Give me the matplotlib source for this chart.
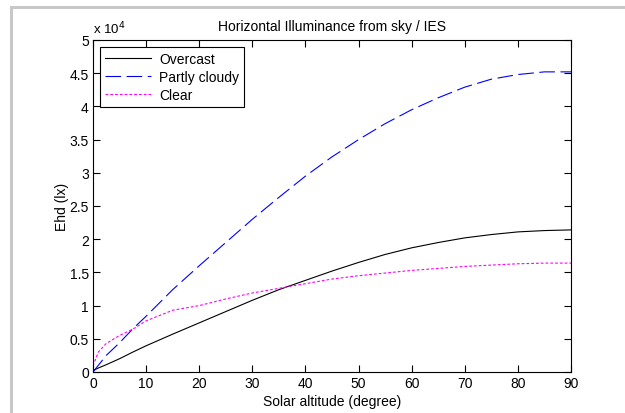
import matplotlib
matplotlib.use('Agg')
import matplotlib.pyplot as plt
from matplotlib.patches import Rectangle

# solar altitude (degree)
altitude = [0, 1, 2.5, 5, 7.5, 10, 15, 20, 25, 30, 35, 40, 45, 50, 55, 60, 65, 70, 75, 80, 85, 90]

# horizontal illuminance, in units of 10^4 lx
overcast = [0.02, 0.06, 0.11, 0.20, 0.30, 0.395, 0.57, 0.74, 0.91, 1.08, 1.24, 1.38, 1.52, 1.65, 1.77,
            1.87, 1.95, 2.02, 2.07, 2.11, 2.13, 2.14]
partly_cloudy = [0.0, 0.10, 0.25, 0.44, 0.65, 0.84, 1.24, 1.60, 1.95, 2.30, 2.63, 2.95, 3.24, 3.50, 3.74,
                 3.95, 4.13, 4.29, 4.41, 4.48, 4.52, 4.52]
clear = [0.09, 0.30, 0.43, 0.55, 0.645, 0.77, 0.93, 1.0, 1.10, 1.19, 1.26, 1.33, 1.40, 1.45, 1.49,
         1.53, 1.56, 1.59, 1.61, 1.63, 1.64, 1.64]

yticks = [0, 0.5, 1, 1.5, 2, 2.5, 3, 3.5, 4, 4.5, 5]
ytick_labels = ['0', '0.5', '1', '1.5', '2', '2.5', '3', '3.5', '4', '4.5', '5']
xticks = list(range(0, 91, 10))

plt.rcParams['font.family'] = ['Liberation Sans', 'DejaVu Sans']
plt.rcParams['font.size'] = 10

fig = plt.figure(figsize=(6.25, 4.14), dpi=100)
fig.patch.set_facecolor('white')
# grey outer frame (figure window edge)
fig.patches.append(Rectangle((11 / 625, -0.1), 1.2, 1.1 - 8 / 414, transform=fig.transFigure,
                             fill=False, edgecolor='#c8c8c8', linewidth=2.2))

ax = fig.add_axes([93 / 625, 1 - 373 / 414, (571 - 93) / 625, (373 - 41) / 414])

ax.plot(altitude, overcast, color='black', linewidth=0.8, label='Overcast')
ax.plot(altitude, partly_cloudy, color='blue', linewidth=0.8, dashes=(14, 5), label='Partly cloudy')
ax.plot(altitude, clear, color='magenta', linewidth=0.8, dashes=(2.5, 1.8), label='Clear')

ax.set_xlim(0, 90)
ax.set_ylim(0, 5)
ax.set_xticks(xticks)
ax.set_yticks(yticks)
ax.set_yticklabels(ytick_labels)
ax.tick_params(direction='in', top=True, right=True, length=5, width=0.8, pad=3)
for s in ax.spines.values():
    s.set_linewidth(0.8)

ax.set_xlabel('Solar altitude (degree)', labelpad=3)
ax.set_ylabel('Ehd (lx)', labelpad=0)
ax.set_title('Horizontal Illuminance from sky / IES', fontsize=10, pad=7)
ax.text(0.0, 1.01, r'x 10$^4$', transform=ax.transAxes, ha='left', va='bottom', fontsize=9.5)

leg = ax.legend(loc='upper left', fancybox=False, framealpha=1, edgecolor='black',
                borderaxespad=0.5, handlelength=3.3, labelspacing=0.3, borderpad=0.35,
                handletextpad=0.6)
leg.get_frame().set_linewidth(0.8)

fig.savefig('out.png', dpi=100)
